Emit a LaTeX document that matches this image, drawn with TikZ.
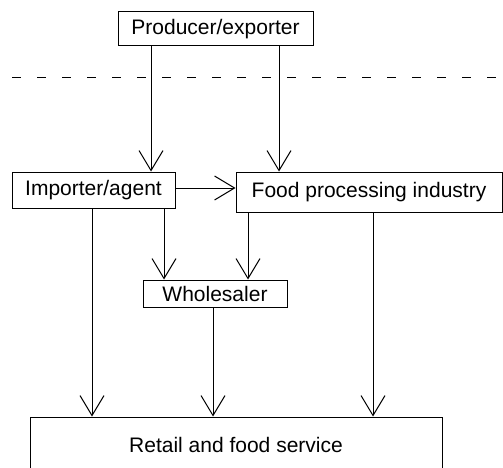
\documentclass[tikz,border=0pt]{standalone}
\usepackage{fontspec}
\setmainfont{Liberation Sans}
\usetikzlibrary{arrows.meta}

\begin{document}
\begin{tikzpicture}[x=1pt,y=-1pt,
    box/.style={draw,line width=1pt,inner sep=0pt,font=\fontsize{21}{25}\selectfont},
    flow/.style={line width=1pt,-{Straight Barb[length=20pt,width=24pt]}}]
  \useasboundingbox (0,0) rectangle (503,468);
  \node[box,minimum width=195pt,minimum height=34pt] (producer) at (215.5,29) {Producer/exporter};
  \node[box,minimum width=163pt,minimum height=36pt] (importer) at (93.5,190) {Importer/agent};
  \node[box,minimum width=266pt,minimum height=40pt] (food) at (369,192) {Food processing industry};
  \node[box,minimum width=144pt,minimum height=27pt] (wholesaler) at (215,293.5) {Wholesaler};
  \node[box,minimum width=412pt,minimum height=56pt] (retail) at (236,445) {Retail and food service};
  \draw[line width=1pt,dash pattern=on 9pt off 16pt] (12,78) -- (503,78);
  \coordinate (ca) at (151,0);
  \coordinate (cb) at (279,0);
  \coordinate (cc) at (92,0);
  \coordinate (cd) at (164,0);
  \coordinate (ce) at (248,0);
  \coordinate (cf) at (373,0);
  \coordinate (cg) at (213,0);
  \coordinate (hy) at (0,188);
  \draw[flow] (producer.south -| ca) -- (importer.north -| ca);
  \draw[flow] (producer.south -| cb) -- (food.north -| cb);
  \draw[flow] (importer.east |- hy) -- (food.west |- hy);
  \draw[flow] (importer.south -| cd) -- (wholesaler.north -| cd);
  \draw[flow] (food.south -| ce) -- (wholesaler.north -| ce);
  \draw[flow] (importer.south -| cc) -- (retail.north -| cc);
  \draw[flow] (wholesaler.south -| cg) -- (retail.north -| cg);
  \draw[flow] (food.south -| cf) -- (retail.north -| cf);
\end{tikzpicture}
\end{document}
